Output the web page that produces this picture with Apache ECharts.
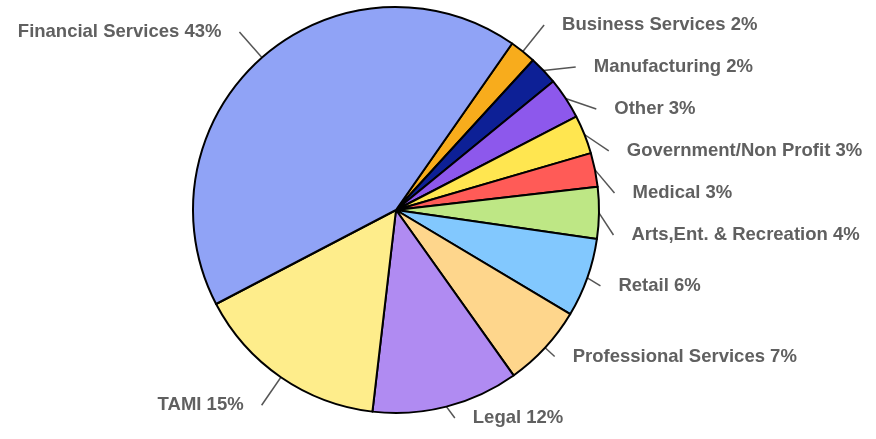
<!DOCTYPE html>
<html>
<head>
<meta charset="utf-8">
<script src="https://cdn.jsdelivr.net/npm/echarts@6/dist/echarts.min.js"></script>
<style>
  html, body { margin: 0; padding: 0; background: #fff; }
  #chart { width: 876px; height: 439px; }
</style>
</head>
<body>
<div id="chart"></div>
<script>
// 業種ごとの割合（時計回り、上から）
const categories = [
  'Business Services', 'Manufacturing', 'Other', 'Government/Non Profit',
  'Medical', 'Arts,Ent. & Recreation', 'Retail', 'Professional Services',
  'Legal', 'TAMI', 'Financial Services'
];
// スライスの大きさ
const values = [2.1, 2.3, 3.3, 3.1, 2.7, 4.1, 6.3, 6.6, 11.7, 15.5, 42.4];
// ラベルに表示されている割合
const labelPercents = [2, 2, 3, 3, 3, 4, 6, 7, 12, 15, 43];

// スライスの色
const colors = [
  '#F8AC1C', '#0D2096', '#8D58EC', '#FFE650', '#FF5B57', '#BEE785',
  '#82C8FE', '#FED68C', '#B08BF2', '#FEED8B', '#90A3F6'
];

const chart = echarts.init(document.getElementById('chart'));

chart.setOption({
  animation: false,
  color: colors,
  series: [
    {
      type: 'pie',
      center: [396, 210],
      radius: [0, 203],
      startAngle: 55.1,
      clockwise: true,
      avoidLabelOverlap: true,
      data: categories.map((name, i) => ({ name: name, value: values[i] })),
      itemStyle: {
        borderColor: '#000',
        borderWidth: 2
      },
      label: {
        show: true,
        position: 'outside',
        formatter: p => p.name + ' ' + labelPercents[p.dataIndex] + '%',
        color: '#606060',
        fontFamily: 'Liberation Sans, Arial, sans-serif',
        fontWeight: 'bold',
        fontSize: 18.5,
        lineHeight: 40,
        distanceToLabelLine: 18
      },
      labelLine: {
        show: true,
        length: 34,
        length2: 0,
        lineStyle: {
          color: '#555',
          width: 1.5
        }
      },
      emphasis: { disabled: true }
    }
  ]
});
</script>
</body>
</html>
